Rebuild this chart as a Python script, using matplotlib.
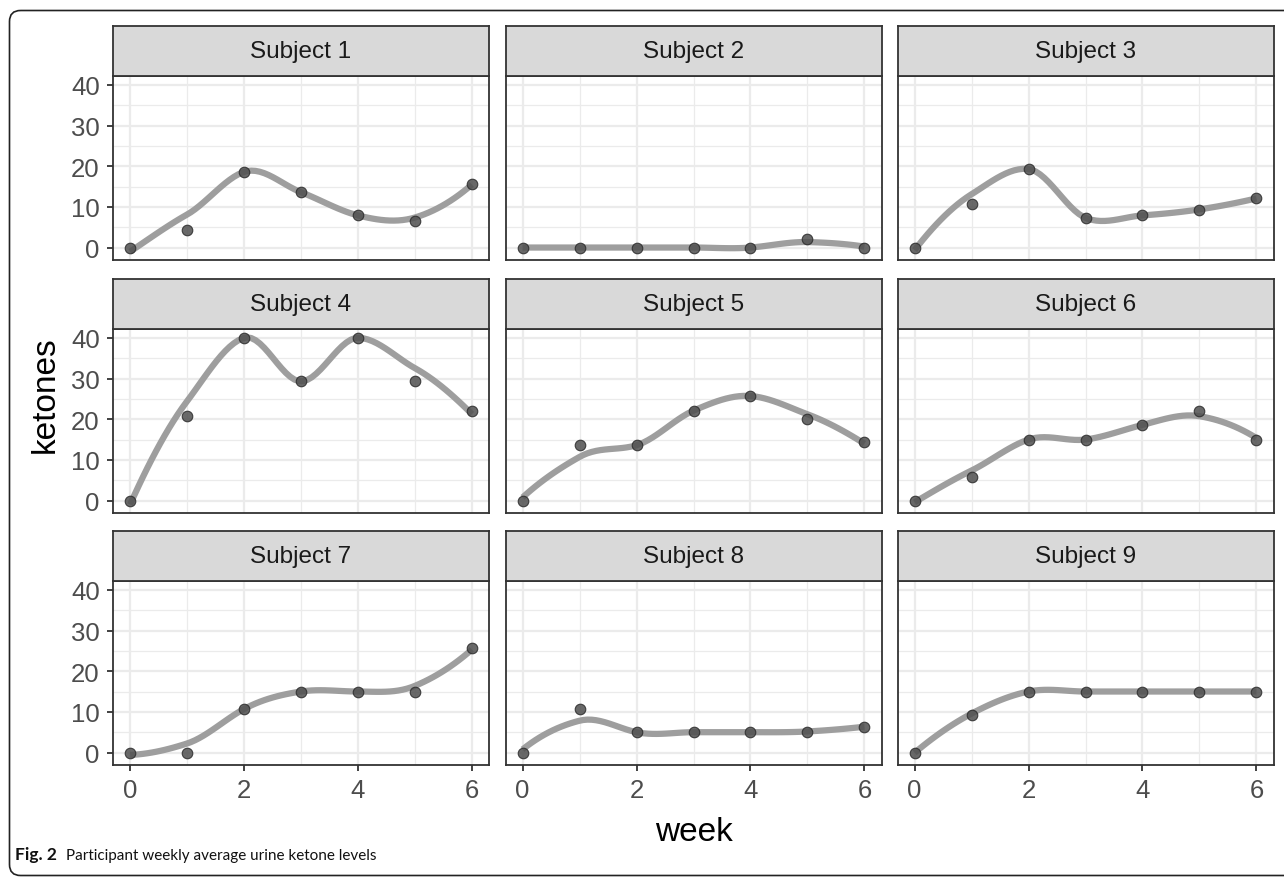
import numpy as np
import matplotlib
matplotlib.use('Agg')
import matplotlib.pyplot as plt
from matplotlib.patches import FancyBboxPatch
from matplotlib.ticker import MultipleLocator

# weekly average urine ketones per subject
week = [0, 1, 2, 3, 4, 5, 6]
subjects = ['Subject 1', 'Subject 2', 'Subject 3',
            'Subject 4', 'Subject 5', 'Subject 6',
            'Subject 7', 'Subject 8', 'Subject 9']
s1 = [0, 4.3, 18.6, 13.6, 7.9, 6.6, 15.7]
s2 = [0, 0, 0, 0, 0, 2.2, 0]
s3 = [0, 10.7, 19.3, 7.3, 7.9, 9.3, 12.1]
s4 = [0, 20.7, 40, 29.3, 40, 29.3, 22.1]
s5 = [0, 13.6, 13.6, 22.1, 25.7, 20.0, 14.3]
s6 = [0, 5.7, 15, 15, 18.6, 22.1, 15]
s7 = [0, 0, 10.7, 15, 15, 15, 25.7]
s8 = [0, 10.7, 5, 5, 5, 5, 6.4]
s9 = [0, 9.3, 15, 15, 15, 15, 15]
ketones = [s1, s2, s3, s4, s5, s6, s7, s8, s9]

plt.rcParams['font.family'] = ['Liberation Sans', 'DejaVu Sans']

W, H = 1284, 879


def local_fit(x, y, x0, q=5):
    # local quadratic fit with tricube weights, returns value and slope at x0
    d = np.abs(x - x0)
    h = np.sort(d)[q - 1]
    w = np.clip(1 - (d / h) ** 3, 0, None) ** 3
    X = np.vstack([np.ones_like(x), x - x0, (x - x0) ** 2]).T
    sw = np.sqrt(w)
    beta = np.linalg.lstsq(X * sw[:, None], y * sw, rcond=None)[0]
    return beta[0], beta[1]


def loess(x, y, xs):
    # fit at the vertices (data x), cubic hermite in between, as R's loess does
    x = np.asarray(x, float)
    y = np.asarray(y, float)
    fits = [local_fit(x, y, v) for v in x]
    val = np.array([f[0] for f in fits])
    der = np.array([f[1] for f in fits])
    out = np.empty_like(xs)
    for j, t in enumerate(xs):
        i = min(np.searchsorted(x, t, side='right') - 1, len(x) - 2)
        hh = x[i + 1] - x[i]
        u = (t - x[i]) / hh
        h00 = 2 * u**3 - 3 * u**2 + 1
        h10 = u**3 - 2 * u**2 + u
        h01 = -2 * u**3 + 3 * u**2
        h11 = u**3 - u**2
        out[j] = h00 * val[i] + h10 * hh * der[i] + h01 * val[i + 1] + h11 * hh * der[i + 1]
    return out


xs = np.linspace(min(week), max(week), 80)
smooths = [loess(week, k, xs) for k in ketones]

# shared y range like ggplot (5% expansion)
lo = min(min(np.min(s), min(k)) for s, k in zip(smooths, ketones))
hi = max(max(np.max(s), max(k)) for s, k in zip(smooths, ketones))
pad = (hi - lo) * 0.05
ylim = (lo - pad, hi + pad)
xlim = (-0.3, 6.3)


def fig_rect(left, top, width, height):
    return [left / W, 1 - (top + height) / H, width / W, height / H]


fig = plt.figure(figsize=(W / 100, H / 100), dpi=100)

# outer frame of the figure
bg = fig.add_axes([0, 0, 1, 1], zorder=-1)
bg.set_xlim(0, W)
bg.set_ylim(H, 0)
bg.axis('off')
bg.add_patch(FancyBboxPatch((9.5, 11.5), 1300, 865, boxstyle='round,pad=0,rounding_size=11',
                            fill=False, ec='#222222', lw=1.2, clip_on=False))

col_left = [113, 505.5, 897.5]
row_top = [77, 330, 582]
pw, ph, sh = 376, 184, 50

for i, (name, k, sm) in enumerate(zip(subjects, ketones, smooths)):
    r, c = divmod(i, 3)
    ax = fig.add_axes(fig_rect(col_left[c], row_top[r], pw, ph))
    ax.set_xlim(xlim)
    ax.set_ylim(ylim)
    ax.xaxis.set_major_locator(MultipleLocator(2))
    ax.xaxis.set_minor_locator(MultipleLocator(1))
    ax.yaxis.set_major_locator(MultipleLocator(10))
    ax.yaxis.set_minor_locator(MultipleLocator(5))
    ax.grid(True, which='major', color='#EBEBEB', lw=1.6)
    ax.grid(True, which='minor', color='#EBEBEB', lw=0.9)
    ax.set_axisbelow(True)
    for sp in ax.spines.values():
        sp.set_color('#333333')
        sp.set_linewidth(1.3)
    ax.tick_params(which='minor', length=0)
    ax.tick_params(which='major', length=4.5, width=1.3, color='#333333',
                   labelcolor='#4D4D4D', labelsize=18.5, pad=5)
    if c != 0:
        ax.tick_params(axis='y', which='both', left=False, labelleft=False)
    if r != 2:
        ax.tick_params(axis='x', which='both', bottom=False, labelbottom=False)

    ax.plot(xs, sm, color='#9E9E9E', lw=4.5, solid_capstyle='butt', zorder=2)
    ax.scatter(week, k, s=58, facecolor='#4F4F4F', edgecolor='#2A2A2A',
               linewidth=0.8, alpha=0.85, zorder=3)

    # facet strip
    st = fig.add_axes(fig_rect(col_left[c], row_top[r] - sh, pw, sh))
    st.set_facecolor('#D9D9D9')
    st.set_xticks([])
    st.set_yticks([])
    for sp in st.spines.values():
        sp.set_color('#333333')
        sp.set_linewidth(1.3)
    st.text(0.5, 0.5, name, ha='center', va='center', fontsize=17.5,
            color='#1A1A1A', transform=st.transAxes)

fig.text(694 / W, 1 - 833 / H, 'week', ha='center', va='center', fontsize=24, color='black')
fig.text(45 / W, 1 - 395 / H, 'ketones', ha='center', va='center', rotation=90,
         fontsize=24, color='black')

cap = fig.text(15 / W, 1 - 860 / H, 'Fig. 2', ha='left', va='baseline', fontsize=12.5,
               fontweight='bold', color='#111111', family=['Lato', 'DejaVu Sans'])
bg.annotate('Participant weekly average urine ketone levels', xy=(1, 0), xycoords=cap,
            xytext=(9, 0), textcoords='offset pixels', ha='left', va='bottom',
            fontsize=11, color='#111111', family=['Lato', 'DejaVu Sans'])

fig.savefig('out.png', dpi=100)
